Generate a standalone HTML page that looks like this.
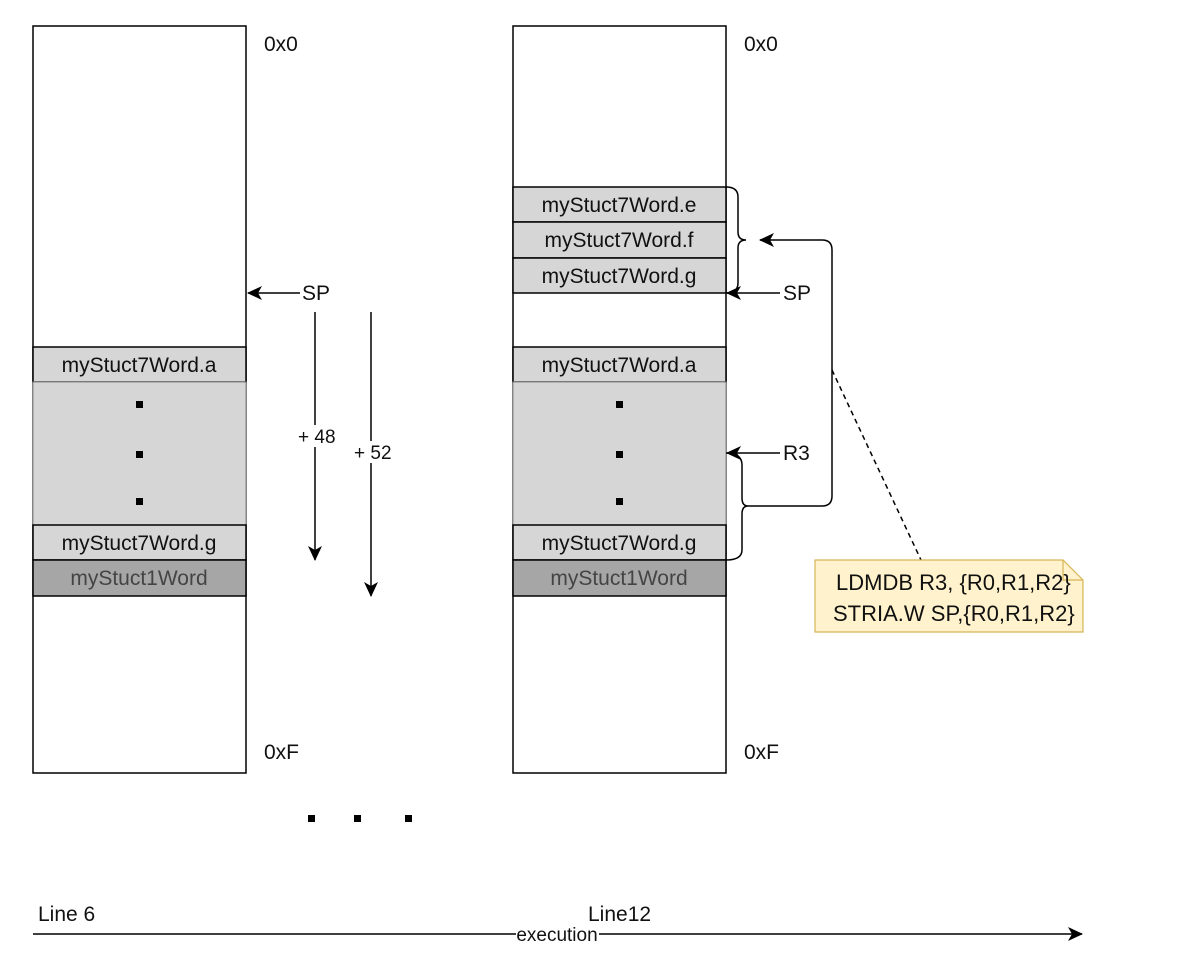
<!DOCTYPE html>
<html><head><meta charset="utf-8"><style>
html,body{margin:0;padding:0;background:#fff;}
svg{display:block;font-family:"Liberation Sans",Arial,sans-serif;}
</style></head><body>
<svg width="1200" height="964" viewBox="0 0 1200 964" xmlns="http://www.w3.org/2000/svg">
<defs>
<marker id="ah" markerWidth="16" markerHeight="16" refX="14" refY="7" orient="auto" markerUnits="userSpaceOnUse">
<path d="M0,0 L15,7 L0,14 L4,7 Z" fill="#000"/>
</marker>
</defs>
<g stroke="#000" stroke-width="1.5">
<rect x="33" y="26" width="213" height="747" fill="#fff"/>
<rect x="33" y="347" width="213" height="35" fill="#d6d6d6"/>
<rect x="33" y="382" width="213" height="143" fill="#d6d6d6" stroke="#888" stroke-width="1"/>
<rect x="33" y="525" width="213" height="35" fill="#d6d6d6"/>
<rect x="33" y="560" width="213" height="36" fill="#a6a6a6"/>
<rect x="513" y="26" width="213" height="747" fill="#fff"/>
<rect x="513" y="187" width="213" height="35" fill="#d6d6d6"/>
<rect x="513" y="222" width="213" height="36" fill="#d6d6d6"/>
<rect x="513" y="258" width="213" height="35" fill="#d6d6d6"/>
<rect x="513" y="347" width="213" height="35" fill="#d6d6d6"/>
<rect x="513" y="382" width="213" height="143" fill="#d6d6d6" stroke="#888" stroke-width="1"/>
<rect x="513" y="525" width="213" height="35" fill="#d6d6d6"/>
<rect x="513" y="560" width="213" height="36" fill="#a6a6a6"/>
</g>
<g fill="#000">
<rect x="136" y="401" width="7" height="7"/><rect x="136" y="451" width="7" height="7"/><rect x="136" y="498" width="7" height="7"/>
<rect x="616" y="401" width="7" height="7"/><rect x="616" y="451" width="7" height="7"/><rect x="616" y="498" width="7" height="7"/>
<rect x="308" y="815" width="7" height="7"/><rect x="354" y="815" width="7" height="7"/><rect x="405" y="815" width="7" height="7"/>
</g>
<g font-size="21" text-anchor="middle" fill="#111">
<text x="139" y="372">myStuct7Word.a</text>
<text x="139" y="550">myStuct7Word.g</text>
<text x="139" y="585" fill="#444">myStuct1Word</text>
<text x="619" y="212">myStuct7Word.e</text>
<text x="619" y="247">myStuct7Word.f</text>
<text x="619" y="283">myStuct7Word.g</text>
<text x="619" y="372">myStuct7Word.a</text>
<text x="619" y="550">myStuct7Word.g</text>
<text x="619" y="585" fill="#444">myStuct1Word</text>
</g>
<g font-size="21" fill="#111">
<text x="264" y="51">0x0</text><text x="264" y="759">0xF</text>
<text x="744" y="51">0x0</text><text x="744" y="759">0xF</text>
<text x="302" y="300">SP</text>
<text x="783" y="300">SP</text>
<text x="783" y="460">R3</text>
</g>
<g stroke="#000" stroke-width="1.5" fill="none">
<line x1="300" y1="293" x2="248" y2="293" marker-end="url(#ah)"/>
<line x1="315" y1="312" x2="315" y2="560" marker-end="url(#ah)"/>
<line x1="371" y1="312" x2="371" y2="596" marker-end="url(#ah)"/>
<line x1="780" y1="293" x2="727" y2="293" marker-end="url(#ah)"/>
<line x1="780" y1="453" x2="727" y2="453" marker-end="url(#ah)"/>
<path d="M726,187 Q738,187 738,197 L738,232 Q738,240 746,240 Q738,240 738,248 L738,283 Q738,293 726,293"/>
<path d="M726,453 Q742,453 742,465 L742,498 Q742,506 748,506 Q742,506 742,514 L742,550 Q742,560 726,560"/>
<path d="M748,506 L822,506 Q832,506 832,496 L832,250 Q832,240 822,240 L760,240" marker-end="url(#ah)"/>
<line x1="832" y1="370" x2="921" y2="560" stroke-dasharray="5,4"/>
<line x1="33" y1="934" x2="1082" y2="934" marker-end="url(#ah)"/>
</g>
<path d="M815,560 L1063,560 L1083,580 L1083,632 L815,632 Z" fill="#fff2cc" stroke="#d6b656" stroke-width="1.2"/>
<path d="M1063,560 L1063,580 L1083,580" fill="none" stroke="#d6b656" stroke-width="1.2"/>
<g font-size="22" fill="#111">
<text x="836" y="590">LDMDB R3, {R0,R1,R2}</text>
<text x="833" y="621">STRIA.W SP,{R0,R1,R2}</text>
</g>
<g fill="#111">
<text x="38" y="921" font-size="21">Line 6</text>
<text x="588" y="921" font-size="21">Line12</text>
<rect x="516" y="925" width="83" height="18" fill="#fff"/>
<text x="557" y="941" text-anchor="middle" font-size="19">execution</text>
<rect x="296" y="425" width="44" height="22" fill="#fff"/>
<text x="298" y="443" font-size="19">+ 48</text>
<rect x="352" y="441" width="44" height="22" fill="#fff"/>
<text x="354" y="459" font-size="19">+ 52</text>
</g>
</svg>
</body></html>
